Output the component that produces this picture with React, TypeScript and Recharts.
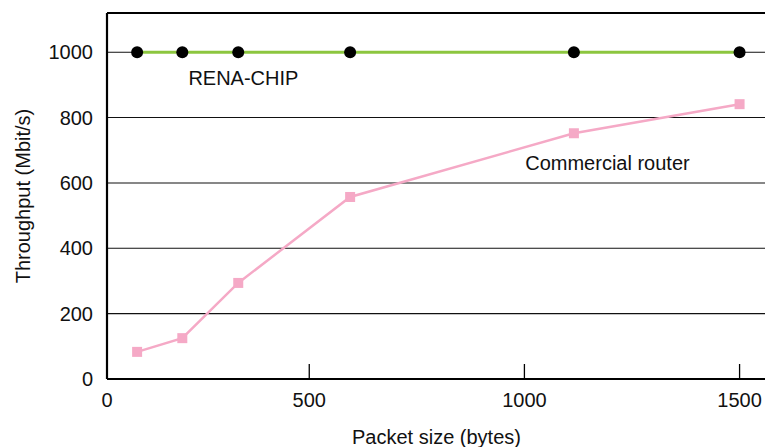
import { LineChart, Line, XAxis, YAxis, CartesianGrid, ReferenceLine, ReferenceDot } from "recharts";

const packetSizes = [100, 205, 335, 595, 1115, 1500];
const renaChip = [1000, 1000, 1000, 1000, 1000, 1000];
const commercialRouter = [83, 125, 294, 557, 752, 841];
const xTicks = [30, 500, 1000, 1500];
const yTicks = [0, 200, 400, 600, 800, 1000];

const data = packetSizes.map((size, i) => ({
  size,
  rena: renaChip[i],
  commercial: commercialRouter[i],
}));

const FONT = '"Liberation Sans", Arial, sans-serif';
const FS = 20;

const XTick = (props: any) => {
  const { x, y, payload } = props;
  const label = payload.value === 30 ? "0" : String(payload.value);
  return (
    <g>
      {payload.value !== 30 && <line x1={x} x2={x} y1={y} y2={y - 15} stroke="#000" strokeWidth={1.3} />}
      <text x={x} y={y + 21} textAnchor="middle" dominantBaseline="central" fontSize={FS} fontFamily={FONT} fill="#111">
        {label}
      </text>
    </g>
  );
};

const PinkSquare = (props: any) => {
  const { cx, cy } = props;
  if (cx == null || cy == null) return null;
  return <rect x={cx - 5} y={cy - 5} width={10} height={10} fill="#F5A9C6" />;
};

export default function App() {
  return (
    <div style={{ position: "fixed", left: 0, top: 0, width: 765, height: 447, overflow: "hidden", background: "#fff" }}>
      <LineChart width={790} height={447} data={data} margin={{ top: 13, right: 16, left: 0, bottom: 0 }}>
        <CartesianGrid horizontal vertical={false} stroke="#111" strokeWidth={1.1} horizontalValues={yTicks} />
        <XAxis
          dataKey="size"
          type="number"
          domain={[30, 1580]}
          ticks={xTicks}
          tick={<XTick />}
          tickLine={false}
          tickSize={0}
          tickMargin={0}
          height={68}
          axisLine={{ stroke: "#000", strokeWidth: 2.2 }}
          interval={0}
          label={{
            content: (p: any) => {
              const vb = p.viewBox;
              return (
                <text x={vb.x + vb.width / 2 - 4} y={437} textAnchor="middle" dominantBaseline="central" fontSize={FS} fontFamily={FONT} fill="#111">
                  Packet size (bytes)
                </text>
              );
            },
          }}
        />
        <YAxis
          type="number"
          domain={[0, 1120]}
          ticks={yTicks}
          width={107}
          tickLine={false}
          tickMargin={8}
          axisLine={{ stroke: "#000", strokeWidth: 2.2 }}
          tick={{ fontSize: FS, fontFamily: FONT, fill: "#111" }}
          label={{
            value: "Throughput (Mbit/s)",
            angle: -90,
            position: "center",
            dx: -31,
            style: { fontSize: FS, fontFamily: FONT, fill: "#111", textAnchor: "middle" },
          }}
        />
        <ReferenceLine y={1120} stroke="#000" strokeWidth={2.2} ifOverflow="extendDomain" />
        <Line
          dataKey="rena"
          stroke="#8CC63F"
          strokeWidth={3}
          dot={{ r: 6, fill: "#000", stroke: "none" }}
          isAnimationActive={false}
        />
        <Line
          dataKey="commercial"
          stroke="#F5A9C6"
          strokeWidth={2.5}
          dot={<PinkSquare />}
          isAnimationActive={false}
        />
        <ReferenceDot
          x={347}
          y={920}
          r={0}
          fill="none"
          stroke="none"
          label={{ value: "RENA-CHIP", position: "center", style: { fontSize: FS, fontFamily: FONT, fill: "#111" } }}
        />
        <ReferenceDot
          x={1193}
          y={660}
          r={0}
          fill="none"
          stroke="none"
          label={{ value: "Commercial router", position: "center", style: { fontSize: FS, fontFamily: FONT, fill: "#111" } }}
        />
      </LineChart>
    </div>
  );
}
